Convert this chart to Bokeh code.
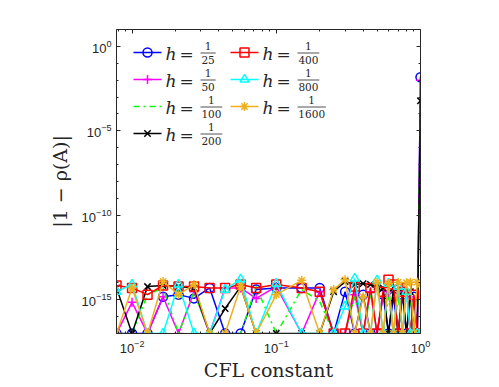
import math
from bokeh.plotting import figure
from bokeh.models import LogAxis, FixedTicker, CustomJSTickFormatter
from bokeh.core.properties import value
from bokeh.embed import file_html
from bokeh.resources import INLINE

# ---------------- data ----------------
cfl = [0.0078, 0.01, 0.0128, 0.0164, 0.021, 0.0269, 0.0345, 0.0442, 0.0566, 0.0725,
       0.1, 0.15, 0.2, 0.25, 0.3, 0.35, 0.4, 0.45, 0.5, 0.55, 0.6, 0.65, 0.7, 0.75,
       0.8, 0.85, 0.9, 0.95, 1.0]

err_h25 = [1e-17, 1e-17, 1e-17, 1.5e-15, 2e-15, 1.2e-15, 5e-15, 1e-17, 1e-17, 4e-15,
           5e-15, 5e-15, 5e-15, 1e-17, 3e-15, 1e-17, 2e-15, 1e-17, 1e-17, 2e-15,
           1e-17, 1.5e-15, 1e-17, 2e-15, 1e-17, 1e-17, 1.5e-15, 1e-17, 1.5e-2]
err_h50 = [1e-17, 7e-16, 1e-17, 1.5e-15, 1e-17, 3e-15, 1e-17, 5e-15, 5e-15, 1.2e-15,
           6e-15, 1e-17, 3e-15, 1e-17, 1e-17, 2e-15, 1e-17, 3e-15, 1e-17, 1.5e-15,
           3e-15, 1e-17, 1e-17, 3e-15, 1e-17, 1.5e-15, 1e-17, 1e-17, 1e-2]
err_h100 = [1e-17, 1e-17, 2e-15, 5e-15, 1e-17, 3e-15, 1e-17, 1e-17, 1e-17, 6e-15,
            1e-17, 4e-15, 8e-16, 1e-17, 1e-17, 1.5e-15, 1e-17, 2e-15, 1e-17, 1e-17,
            1.5e-15, 1e-17, 1.5e-15, 1e-17, 1e-17, 1.5e-15, 1e-17, 1e-17, 2e-3]
err_h200 = [5e-15, 1e-17, 6e-15, 7e-15, 6e-15, 5e-15, 1e-17, 3e-16, 6e-15, 1e-17,
            1e-17, 1e-17, 1e-17, 3e-15, 1.2e-14, 8e-15, 9e-15, 8e-15, 6e-15, 5e-15,
            1e-17, 5e-15, 1e-17, 3e-15, 1e-17, 3e-15, 1e-17, 1e-17, 6e-4]
err_h400 = [7e-15, 5e-15, 2e-15, 7e-15, 6e-15, 6e-15, 5e-15, 5e-15, 8e-15, 5e-15,
            8e-15, 5e-15, 3e-15, 1e-17, 1e-17, 6e-15, 1e-17, 5e-15, 1e-17, 3e-15,
            1.5e-14, 8e-15, 1e-17, 3e-15, 5e-15, 1e-17, 2e-15, 1e-17, 1e-17]
err_h800 = [3e-15, 8e-15, 1e-17, 1e-17, 8e-15, 1e-17, 1e-17, 4e-15, 1.6e-14, 1e-17,
            9e-15, 1e-17, 1e-17, 1e-17, 4e-16, 1.8e-14, 1e-17, 1e-17, 1.4e-14, 1e-17,
            9e-15, 1e-17, 6e-15, 1e-17, 3e-15, 1e-17, 1e-17, 1e-17, 1e-17]
err_h1600 = [1e-17, 5e-15, 1e-17, 1.2e-14, 2e-15, 8e-15, 1e-17, 1e-17, 6e-15, 1e-17,
             2e-15, 1.4e-14, 1e-17, 4e-15, 1.5e-14, 1e-17, 1.5e-15, 1e-17, 1.1e-14, 1e-17,
             9e-15, 1e-17, 1.1e-14, 1e-17, 1e-14, 1.1e-14, 1e-17, 1.1e-14, 8e-15]

h_denominators = ["25", "50", "100", "200", "400", "800", "1600"]
series_values = [err_h25, err_h50, err_h100, err_h200, err_h400, err_h800, err_h1600]
series_colors = ["#0000ff", "#ff00ff", "#00ff00", "#000000", "#ff0000", "#00ffff", "#edb120"]
series_markers = ["circle", "cross", None, "x", "square", "triangle", "asterisk"]
series_dashes = ["solid", "solid", "dashdot", "solid", "solid", "solid", "solid"]

x_major = [1e-2, 1e-1, 1e0]
y_major = [1e-15, 1e-10, 1e-5, 1e0]

# ---------------- figure ----------------
X0, X1 = 0.0078, 1.0
Y0, Y1 = 1e-17, 1e1
FW, FH = 304, 304
AX = "#262626"

p = figure(x_axis_type="log", y_axis_type="log", x_range=(X0, X1), y_range=(Y0, Y1),
           frame_width=FW, frame_height=FH,
           min_border_left=116, min_border_right=40, min_border_top=29, min_border_bottom=50,
           output_backend="svg", toolbar_location=None)
p.outline_line_color = None
p.grid.visible = False
p.background_fill_color = "white"


def x_minor():
    out = []
    for d in (-3, -2, -1):
        for m in range(2, 10):
            v = m * 10 ** d
            if X0 <= v <= X1:
                out.append(v)
    return out


def y_minor():
    return [10.0 ** e for e in range(-17, 2)]


def style_axis(ax):
    ax.axis_line_color = AX
    ax.axis_line_width = 1
    ax.major_tick_line_color = AX
    ax.minor_tick_line_color = AX
    ax.major_tick_in = 4
    ax.major_tick_out = 0
    ax.minor_tick_in = 2
    ax.minor_tick_out = 0
    ax.major_label_text_font = "Liberation Sans"
    ax.major_label_text_font_size = "13px"
    ax.major_label_text_color = AX


xa = p.xaxis[0]
ya = p.yaxis[0]
xa.ticker = FixedTicker(ticks=x_major, minor_ticks=x_minor())
ya.ticker = FixedTicker(ticks=y_major, minor_ticks=y_minor())
style_axis(xa)
style_axis(ya)
xa.major_label_standoff = 6
ya.major_label_standoff = 5

xa.axis_label = "CFL constant"
xa.axis_label_text_font = "DejaVu Serif"
xa.axis_label_text_font_size = "19px"
xa.axis_label_text_font_style = "normal"
xa.axis_label_text_color = AX
xa.axis_label_standoff = 3

ya.axis_label = "|1 − ρ(A)|"
ya.axis_label_text_font = "DejaVu Serif"
ya.axis_label_text_font_size = "19px"
ya.axis_label_text_font_style = "normal"
ya.axis_label_text_color = AX
ya.axis_label_standoff = 8

top = LogAxis(ticker=FixedTicker(ticks=x_major, minor_ticks=x_minor()),
              formatter=CustomJSTickFormatter(code="return ''"))
style_axis(top)
top.major_label_standoff = 0
p.add_layout(top, "above")

right = LogAxis(ticker=FixedTicker(ticks=y_major, minor_ticks=y_minor()),
                formatter=CustomJSTickFormatter(code="return ''"))
style_axis(right)
right.major_label_standoff = 0
p.add_layout(right, "right")

# ---------------- data series ----------------
for vals, col, mk, dash in zip(series_values, series_colors, series_markers, series_dashes):
    p.line(cfl, vals, line_color=col, line_width=1.5, line_dash=dash)
    if mk is not None:
        p.scatter(cfl, vals, marker=mk, size=9, line_color=col, fill_color=None, line_width=1.5)

# ---------------- legend (drawn in frame pixel offsets) ----------------
lx0, lx1 = math.log10(X0), math.log10(X1)
ly0, ly1 = math.log10(Y0), math.log10(Y1)


def fx(px):
    return 10 ** (lx0 + px / FW * (lx1 - lx0))


def fy(py):
    return 10 ** (ly1 - py / FH * (ly1 - ly0))


col_start = [17, 114]
row_off = [23, 50, 77, 104]
slots = [(0, 0), (0, 1), (0, 2), (0, 3), (1, 0), (1, 1), (1, 2)]

h_x, h_y, eq_x, eq_y = [], [], [], []
num_x, num_y, den_x, den_y, den_t = [], [], [], [], []
bx0, bx1, by = [], [], []
for i, (c, r) in enumerate(slots):
    sx = col_start[c]
    ry = row_off[r]
    col = series_colors[i]
    p.line([fx(sx), fx(sx + 28)], [fy(ry), fy(ry)], line_color=col, line_width=1.5,
           line_dash=series_dashes[i])
    if series_markers[i] is not None:
        p.scatter([fx(sx + 14)], [fy(ry)], marker=series_markers[i], size=9,
                  line_color=col, fill_color=None, line_width=1.5)
    h_x.append(fx(sx + 32)); h_y.append(fy(ry + 1))
    eq_x.append(fx(sx + 46)); eq_y.append(fy(ry + 1))
    d = h_denominators[i]
    wd = 6.6 * len(d)
    cx = sx + 68 + wd / 2
    num_x.append(fx(cx)); num_y.append(fy(ry - 6.5))
    den_x.append(fx(cx)); den_y.append(fy(ry + 7.5))
    den_t.append(d)
    bx0.append(fx(sx + 67)); bx1.append(fx(sx + 69 + wd)); by.append(fy(ry + 0.5))

p.text(x=h_x, y=h_y, text=["h"] * 7, text_font=value("DejaVu Serif"), text_font_style="italic",
       text_font_size="17px", text_baseline="middle", text_align="left", text_color=AX)
p.text(x=eq_x, y=eq_y, text=["="] * 7, text_font=value("DejaVu Serif"),
       text_font_size="17px", text_baseline="middle", text_align="left", text_color=AX)
p.text(x=num_x, y=num_y, text=["1"] * 7, text_font=value("DejaVu Serif"),
       text_font_size="10.5px", text_baseline="middle", text_align="center", text_color=AX)
p.text(x=den_x, y=den_y, text=den_t, text_font=value("DejaVu Serif"),
       text_font_size="10.5px", text_baseline="middle", text_align="center", text_color=AX)
p.segment(x0=bx0, y0=by, x1=bx1, y1=by, line_color=AX, line_width=0.8)

open("out.html", "w").write(file_html(p, INLINE))
